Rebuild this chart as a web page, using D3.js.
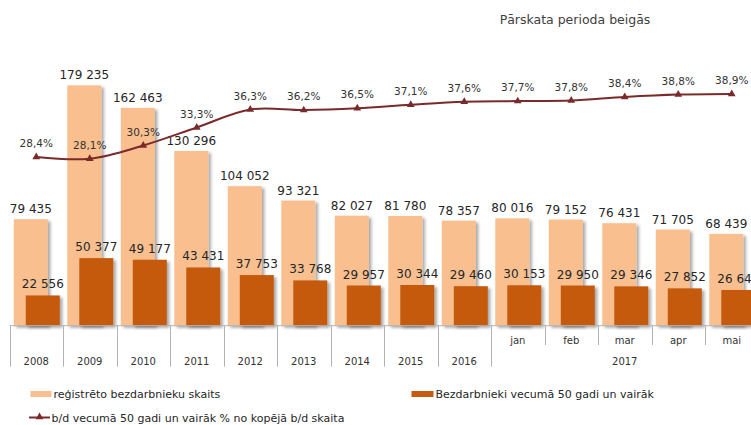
<!DOCTYPE html>
<html>
<head>
<meta charset="utf-8">
<script src="https://cdn.jsdelivr.net/npm/d3@7"></script>
<style>
  body { margin: 0; background: #fff; }
  svg { display: block; font-family: "DejaVu Sans", Verdana, sans-serif; }
</style>
</head>
<body>
<div id="chart"></div>
<script>
// data
var categories = ['2008', '2009', '2010', '2011', '2012', '2013', '2014', '2015', '2016', 'jan', 'feb', 'mar', 'apr', 'mai'];
var registered = [79435, 179235, 162463, 130296, 104052, 93321, 82027, 81780, 78357, 80016, 79152, 76431, 71705, 68439];
var over50 = [22556, 50377, 49177, 43431, 37753, 33768, 29957, 30344, 29460, 30153, 29950, 29346, 27852, 26640];
var share = [28.4, 28.1, 30.3, 33.3, 36.3, 36.2, 36.5, 37.1, 37.6, 37.7, 37.8, 38.4, 38.8, 38.9];
var groupLabels = [{ label: '2017', from: 'jan', to: 'mai' }];
var seriesNames = ['reģistrēto bezdarbnieku skaits', 'Bezdarbnieki vecumā 50 gadi un vairāk', 'b/d vecumā 50 gadi un vairāk % no kopējā b/d skaita'];
var title = 'Pārskata perioda beigās';

var width = 751, height = 425;
var baseY = 325.7; // category axis line
var lightColor = '#f9bf8f', darkColor = '#c55a11', lineColor = '#7a2a2a';

var svg = d3.select('#chart').append('svg')
  .attr('width', width)
  .attr('height', height);

// bar shadow
var defs = svg.append('defs');
var f = defs.append('filter').attr('id', 'shadow')
  .attr('x', '-20%').attr('y', '-20%').attr('width', '150%').attr('height', '150%');
f.append('feDropShadow')
  .attr('dx', 2.5).attr('dy', 2).attr('stdDeviation', 1.4)
  .attr('flood-color', '#000').attr('flood-opacity', 0.35);

var x = d3.scaleBand().domain(categories).range([9.5, 758.5]).padding(0);
var y = d3.scaleLinear().domain([0, 200000]).range([baseY, baseY - 268.2]);
var yp = d3.scaleLinear().domain([0, 45]).range([327.3, 327.3 - 6 * 45]);

var bw = x.bandwidth();
var barW = bw * 34 / 53.5;
var lightOff = bw * 4.3 / 53.5, darkOff = bw * 16.3 / 53.5;

var fmt = function(v) { return d3.format(',')(v).replace(/,/g, ' '); };

// title
svg.append('text')
  .attr('x', 575).attr('y', 24)
  .attr('text-anchor', 'middle')
  .attr('font-size', 12.5)
  .attr('fill', '#404040')
  .text(title);

// bars
svg.append('g').selectAll('rect')
  .data(registered)
  .join('rect')
  .attr('x', function(d, i) { return x(categories[i]) + lightOff; })
  .attr('y', function(d) { return y(d); })
  .attr('width', barW)
  .attr('height', function(d) { return baseY - y(d); })
  .attr('fill', lightColor)
  .attr('filter', 'url(#shadow)');

svg.append('g').selectAll('rect')
  .data(over50)
  .join('rect')
  .attr('x', function(d, i) { return x(categories[i]) + darkOff; })
  .attr('y', function(d) { return y(d); })
  .attr('width', barW)
  .attr('height', function(d) { return baseY - y(d); })
  .attr('fill', darkColor)
  .attr('filter', 'url(#shadow)');

// bar labels
svg.append('g').selectAll('text')
  .data(registered)
  .join('text')
  .attr('x', function(d, i) { return x(categories[i]) + lightOff + barW / 2; })
  .attr('y', function(d) { return y(d) - 6; })
  .attr('text-anchor', 'middle')
  .attr('font-size', 12)
  .attr('fill', '#262626')
  .text(fmt);

svg.append('g').selectAll('text')
  .data(over50)
  .join('text')
  .attr('x', function(d, i) { return x(categories[i]) + darkOff + barW / 2; })
  .attr('y', function(d) { return y(d) - 7; })
  .attr('text-anchor', 'middle')
  .attr('font-size', 12)
  .attr('fill', '#262626')
  .text(fmt);

// axis: baseline + separators
var axis = svg.append('g').attr('stroke', '#b3b3b3').attr('stroke-width', 1);
axis.append('line')
  .attr('x1', 9.5).attr('x2', width)
  .attr('y1', baseY).attr('y2', baseY);

var monthStart = categories.indexOf(groupLabels[0].from);
var bounds = d3.range(categories.length + 1);
axis.selectAll('line.sep')
  .data(bounds)
  .join('line')
  .attr('class', 'sep')
  .attr('x1', function(i) { return Math.round(x.step() * i + x.range()[0]) + 0.5; })
  .attr('x2', function(i) { return Math.round(x.step() * i + x.range()[0]) + 0.5; })
  .attr('y1', baseY)
  .attr('y2', function(i) { return i > monthStart ? 345 : 366.7; });

// category labels
svg.append('g').selectAll('text')
  .data(categories)
  .join('text')
  .attr('x', function(d) { return x(d) + bw / 2; })
  .attr('y', function(d, i) { return i >= monthStart ? 343.5 : 364.5; })
  .attr('text-anchor', 'middle')
  .attr('font-size', 10)
  .attr('fill', '#333')
  .text(function(d) { return d; });

groupLabels.forEach(function(g) {
  var x0 = x(g.from), x1 = x(g.to) + bw;
  svg.append('text')
    .attr('x', (x0 + x1) / 2).attr('y', 364.5)
    .attr('text-anchor', 'middle')
    .attr('font-size', 10)
    .attr('fill', '#333')
    .text(g.label);
});

// share line
var line = d3.line()
  .x(function(d, i) { return x(categories[i]) + bw / 2; })
  .y(function(d) { return yp(d); })
  .curve(d3.curveCatmullRom.alpha(0.5));

svg.append('path')
  .datum(share)
  .attr('d', line)
  .attr('fill', 'none')
  .attr('stroke', lineColor)
  .attr('stroke-width', 2);

var tri = d3.symbol(d3.symbolTriangle, 26);
svg.append('g').selectAll('path')
  .data(share)
  .join('path')
  .attr('d', tri)
  .attr('transform', function(d, i) { return 'translate(' + (x(categories[i]) + bw / 2) + ',' + yp(d) + ')'; })
  .attr('fill', lineColor);

svg.append('g').selectAll('text')
  .data(share)
  .join('text')
  .attr('x', function(d, i) { return x(categories[i]) + bw / 2; })
  .attr('y', function(d) { return yp(d) - 10; })
  .attr('text-anchor', 'middle')
  .attr('font-size', 10.5)
  .attr('fill', '#333')
  .text(function(d) { return d3.format('.1f')(d).replace('.', ',') + '%'; });

// legend
var lg = svg.append('g').attr('font-size', 11).attr('fill', '#262626');
lg.append('rect').attr('x', 30.5).attr('y', 391).attr('width', 21).attr('height', 6).attr('fill', lightColor);
lg.append('text').attr('x', 53.5).attr('y', 397.5).text(seriesNames[0]);
lg.append('rect').attr('x', 411.5).attr('y', 391).attr('width', 22).attr('height', 6).attr('fill', darkColor);
lg.append('text').attr('x', 435.5).attr('y', 397.5).text(seriesNames[1]);
lg.append('line').attr('x1', 29).attr('x2', 50).attr('y1', 417.5).attr('y2', 417.5)
  .attr('stroke', lineColor).attr('stroke-width', 2);
lg.append('path').attr('d', tri).attr('transform', 'translate(39.5,417)').attr('fill', lineColor);
lg.append('text').attr('x', 51.5).attr('y', 421.5).text(seriesNames[2]);
</script>
</body>
</html>
